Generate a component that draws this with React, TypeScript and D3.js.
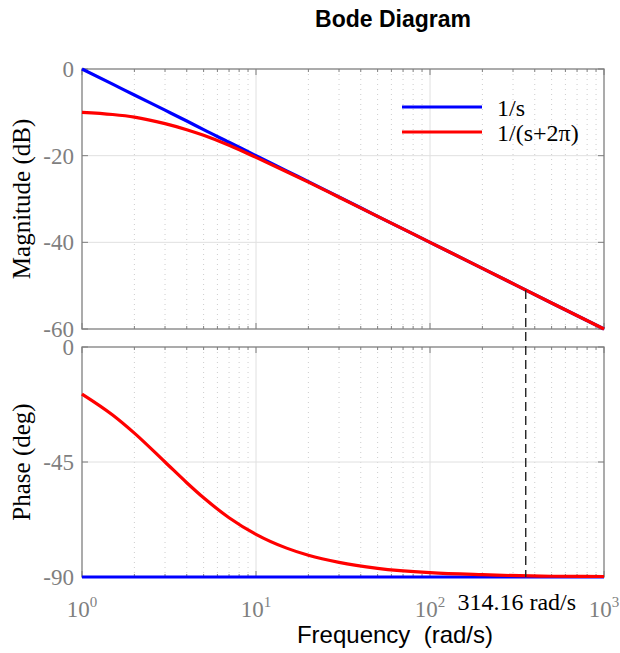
import { useEffect, useRef } from 'react'
import * as d3 from 'd3'

// values
const FREQ = [1, 1.5, 2, 3, 4, 5, 7, 10, 15, 20, 30, 50, 100, 200, 500, 1000]
const MAG_INT = [0, -3.5, -6, -9.5, -12, -14, -16.9, -20, -23.5, -26, -29.5, -34, -40, -46, -54, -60]
const MAG_POLE = [-10, -10.5, -11.1, -12.6, -14, -15.3, -17.6, -20.4, -23.7, -26.1, -29.6, -34, -40, -46, -54, -60]
const PHASE_INT = [-90, -90, -90, -90, -90, -90, -90, -90, -90, -90, -90, -90, -90, -90, -90, -90]
const PHASE_POLE = [-18.4, -26.6, -33.7, -45, -53.1, -59, -66.8, -73.3, -78.7, -81.5, -84.3, -86.6, -88.3, -89.1, -89.7, -89.8]

const MAG_TICKS = [0, -20, -40, -60]
const PHASE_TICKS = [0, -45, -90]
const X_TICK_EXP = [0, 1, 2, 3]

const LEGEND = ['1/s', '1/(s+2π)']
const COLORS = ['#0000ff', '#ff0000']

const MARK_FREQ = 355
const MARK_MAG = -51
const MARK_LABEL = '314.16 rad/s'

const W = 620
const H = 653
const LEFT = 82
const RIGHT = 604
const MAG_TOP = 69
const MAG_BOT = 329
const PH_TOP = 347
const PH_BOT = 577

const SERIF = '"Liberation Serif", "Times New Roman", serif'
const SANS = '"Liberation Sans", Arial, sans-serif'
const GRAY = '#7f7f7f'

export default function App() {
  const svgRef = useRef<SVGSVGElement | null>(null)

  useEffect(() => {
    if (!svgRef.current) return
    const svg = d3.select(svgRef.current)
    svg.selectAll('*').remove()

    const x = d3.scaleLog().domain([1, 1000]).range([LEFT, RIGHT])
    const yMag = d3.scaleLinear().domain([-60, 0]).range([MAG_BOT, MAG_TOP])
    const yPh = d3.scaleLinear().domain([-90, 0]).range([PH_BOT, PH_TOP])

    const xTicks = x.ticks()
    const isMajor = (v: number) => Math.abs(Math.log10(v) - Math.round(Math.log10(v))) < 1e-9

    const panels = [
      { y: yMag, top: MAG_TOP, bot: MAG_BOT, ticks: MAG_TICKS, series: [MAG_INT, MAG_POLE] },
      { y: yPh, top: PH_TOP, bot: PH_BOT, ticks: PHASE_TICKS, series: [PHASE_INT, PHASE_POLE] },
    ]

    panels.forEach((p) => {
      const g = svg.append('g')

      // ── Grid ──────────────────────────────────────────────
      g.selectAll('.minor').data(xTicks.filter((v) => !isMajor(v))).join('line')
        .attr('x1', (d) => x(d)).attr('x2', (d) => x(d))
        .attr('y1', p.top).attr('y2', p.bot)
        .attr('stroke', '#cdcdcd').attr('stroke-width', 1)
        .attr('stroke-dasharray', '1,4')
      g.selectAll('.majorx').data(xTicks.filter((v) => isMajor(v) && v > 1 && v < 1000)).join('line')
        .attr('x1', (d) => x(d)).attr('x2', (d) => x(d))
        .attr('y1', p.top).attr('y2', p.bot)
        .attr('stroke', '#e0e0e0').attr('stroke-width', 1)
      g.selectAll('.majory').data(p.ticks.slice(1, -1)).join('line')
        .attr('x1', LEFT).attr('x2', RIGHT)
        .attr('y1', (d) => p.y(d)).attr('y2', (d) => p.y(d))
        .attr('stroke', '#e0e0e0').attr('stroke-width', 1)

      // ── Box + ticks ───────────────────────────────────────
      g.append('rect')
        .attr('x', LEFT).attr('y', p.top)
        .attr('width', RIGHT - LEFT).attr('height', p.bot - p.top)
        .attr('fill', 'none').attr('stroke', GRAY).attr('stroke-width', 1.3)
      xTicks.forEach((v) => {
        const len = isMajor(v) ? 6 : 3
        g.append('line').attr('x1', x(v)).attr('x2', x(v))
          .attr('y1', p.top).attr('y2', p.top + len).attr('stroke', GRAY)
        g.append('line').attr('x1', x(v)).attr('x2', x(v))
          .attr('y1', p.bot).attr('y2', p.bot - len).attr('stroke', GRAY)
      })
      p.ticks.forEach((v) => {
        g.append('line').attr('x1', LEFT).attr('x2', LEFT + 6)
          .attr('y1', p.y(v)).attr('y2', p.y(v)).attr('stroke', GRAY)
        g.append('line').attr('x1', RIGHT).attr('x2', RIGHT - 6)
          .attr('y1', p.y(v)).attr('y2', p.y(v)).attr('stroke', GRAY)
      })

      // tick labels
      g.selectAll('.ylab').data(p.ticks).join('text')
        .attr('x', LEFT - 8).attr('y', (d) => p.y(d) + 8)
        .attr('text-anchor', 'end')
        .attr('font-family', SERIF).attr('font-size', 23).attr('fill', GRAY)
        .text((d) => String(d))
    })

    // ── Curves ──────────────────────────────────────────────
    panels.forEach((p) => {
      const line = d3.line<number>()
        .x((_, i) => x(FREQ[i]))
        .y((d) => p.y(d))
        .curve(d3.curveMonotoneX)
      p.series.forEach((s, i) => {
        svg.append('path')
          .attr('d', line(s))
          .attr('fill', 'none')
          .attr('stroke', COLORS[i])
          .attr('stroke-width', 3.2)
      })
    })

    // ── Marker at the sampling frequency ───────────────────
    svg.append('line')
      .attr('x1', x(MARK_FREQ)).attr('x2', x(MARK_FREQ))
      .attr('y1', yMag(MARK_MAG)).attr('y2', yPh(-90))
      .attr('stroke', '#222').attr('stroke-width', 1.4)
      .attr('stroke-dasharray', '9,5')
    svg.append('text')
      .attr('x', x(MARK_FREQ) - 9).attr('y', 610)
      .attr('text-anchor', 'middle')
      .attr('font-family', SERIF).attr('font-size', 24).attr('fill', '#000')
      .text(MARK_LABEL)

    // x tick labels 10^n
    X_TICK_EXP.forEach((e) => {
      const t = svg.append('text')
        .attr('x', x(Math.pow(10, e))).attr('y', 617)
        .attr('text-anchor', 'middle')
        .attr('font-family', SERIF).attr('font-size', 23).attr('fill', GRAY)
      t.append('tspan').text('10')
      t.append('tspan').attr('font-size', 15).attr('dy', -10).text(String(e))
    })

    // ── Legend ──────────────────────────────────────────────
    LEGEND.forEach((lab, i) => {
      const ly = 107 + i * 25
      svg.append('line')
        .attr('x1', 402).attr('x2', 482).attr('y1', ly).attr('y2', ly)
        .attr('stroke', COLORS[i]).attr('stroke-width', 3.2)
      svg.append('text')
        .attr('x', 497).attr('y', ly + 9)
        .attr('font-family', SERIF).attr('font-size', 24).attr('fill', '#000')
        .text(lab)
    })

    // ── Titles ─────────────────────────────────────────────
    svg.append('text')
      .attr('x', 393).attr('y', 27).attr('text-anchor', 'middle')
      .attr('font-family', SANS).attr('font-weight', 'bold').attr('font-size', 23)
      .attr('fill', '#000').text('Bode Diagram')
    svg.append('text')
      .attr('x', 395).attr('y', 643).attr('text-anchor', 'middle')
      .attr('font-family', SANS).attr('font-size', 24).attr('fill', '#000')
      .attr('xml:space', 'preserve').style('white-space', 'pre')
      .text('Frequency  (rad/s)')
    svg.append('text')
      .attr('transform', `translate(30,${(MAG_TOP + MAG_BOT) / 2}) rotate(-90)`)
      .attr('text-anchor', 'middle')
      .attr('font-family', SERIF).attr('font-size', 25).attr('fill', '#000')
      .text('Magnitude (dB)')
    svg.append('text')
      .attr('transform', `translate(30,${(PH_TOP + PH_BOT) / 2}) rotate(-90)`)
      .attr('text-anchor', 'middle')
      .attr('font-family', SERIF).attr('font-size', 25).attr('fill', '#000')
      .text('Phase (deg)')
  }, [])

  return (
    <div style={{ position: 'absolute', left: 0, top: 0, width: W, height: H, background: '#fff' }}>
      <svg ref={svgRef} width={W} height={H} style={{ display: 'block' }} />
    </div>
  )
}
